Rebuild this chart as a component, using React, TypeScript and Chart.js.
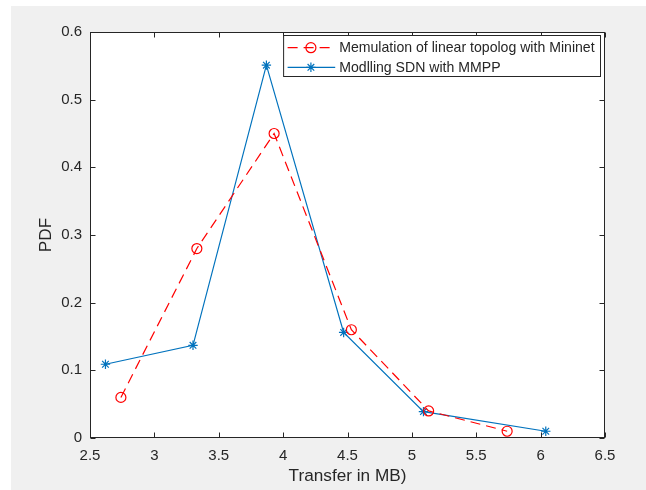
import React, { useEffect, useRef } from "react";
import { Chart, registerables } from "chart.js";

Chart.register(...registerables);

const redLabel = "Memulation of linear topolog with Mininet";
const blueLabel = "Modlling SDN with MMPP";
const xTitle = "Transfer in MB)";
const yTitle = "PDF";

const redX = [2.74, 3.33, 3.93, 4.53, 5.13, 5.74];
const redY = [0.06, 0.28, 0.45, 0.16, 0.04, 0.01];
const blueX = [2.62, 3.3, 3.87, 4.47, 5.09, 6.04];
const blueY = [0.109, 0.137, 0.551, 0.156, 0.039, 0.01];

const xMin = 2.5, xMax = 6.5, xStep = 0.5;
const yMin = 0, yMax = 0.6, yStep = 0.1;

const RED = "#FF0000";
const BLUE = "#0072BD";
const AX = "#262626";
const FONT = "'Liberation Sans', Arial, sans-serif";

const fmt = (v: number) => String(Math.round(v * 10) / 10);

function drawStar(ctx: CanvasRenderingContext2D, x: number, y: number, r: number) {
  ctx.beginPath();
  for (let k = 0; k < 4; k++) {
    const a = (k * Math.PI) / 4;
    ctx.moveTo(x - r * Math.cos(a), y - r * Math.sin(a));
    ctx.lineTo(x + r * Math.cos(a), y + r * Math.sin(a));
  }
  ctx.stroke();
}

const bgPlugin = {
  id: "bgPlugin",
  beforeDraw(chart: any) {
    const { ctx, width, height, chartArea: a } = chart;
    ctx.save();
    ctx.fillStyle = "#ffffff";
    ctx.fillRect(0, 0, width, height);
    ctx.fillStyle = "#f0f0f0";
    ctx.fillRect(11, 6, width - 11, height - 6);
    ctx.fillStyle = "#ffffff";
    ctx.fillRect(a.left, a.top, a.right - a.left, a.bottom - a.top);
    ctx.restore();
  },
};

const framePlugin = {
  id: "framePlugin",
  afterDatasetsDraw(chart: any) {
    const { ctx, chartArea: a, scales } = chart;
    const xs = scales.x, ys = scales.y;
    ctx.save();
    ctx.strokeStyle = AX;
    ctx.lineWidth = 1;
    ctx.setLineDash([]);
    const L = a.left + 0.5, R = a.right - 0.5, T = a.top + 0.5, B = a.bottom - 0.5;
    ctx.strokeRect(L, T, R - L, B - T);
    const tl = 5;
    ctx.beginPath();
    xs.ticks.forEach((t: any) => {
      const px = Math.round(xs.getPixelForValue(t.value)) + 0.5;
      ctx.moveTo(px, B); ctx.lineTo(px, B - tl);
      ctx.moveTo(px, T); ctx.lineTo(px, T + tl);
    });
    ys.ticks.forEach((t: any) => {
      const py = Math.round(ys.getPixelForValue(t.value)) + 0.5;
      ctx.moveTo(L, py); ctx.lineTo(L + tl, py);
      ctx.moveTo(R, py); ctx.lineTo(R - tl, py);
    });
    ctx.stroke();

    // legend
    const ds = chart.data.datasets;
    ctx.font = `14.1px ${FONT}`;
    const tw = Math.max(...ds.map((d: any) => ctx.measureText(d.label).width));
    const boxR = a.right - 4.5;
    const boxL = boxR - (tw + 61.5);
    const boxT = a.top + 3.5;
    const boxB = a.top + 44.5;
    ctx.fillStyle = "#ffffff";
    ctx.fillRect(boxL, boxT, boxR - boxL, boxB - boxT);
    ctx.strokeStyle = AX;
    ctx.strokeRect(boxL, boxT, boxR - boxL, boxB - boxT);
    const rows = [a.top + 15.7, a.top + 35.3];
    ds.forEach((d: any, i: number) => {
      const cy = rows[i];
      const x0 = boxL + 4, x1 = boxL + 51.6, mx = boxL + 27.3;
      ctx.strokeStyle = d.borderColor;
      ctx.lineWidth = d.borderWidth;
      ctx.setLineDash(d.borderDash || []);
      ctx.beginPath();
      ctx.moveTo(x0, cy); ctx.lineTo(x1, cy);
      ctx.stroke();
      ctx.setLineDash([]);
      if (d.pointStyle === "circle") {
        ctx.beginPath();
        ctx.arc(mx, cy, d.pointRadius, 0, Math.PI * 2);
        ctx.stroke();
      } else {
        drawStar(ctx, mx, cy, d.pointRadius);
      }
      ctx.fillStyle = AX;
      ctx.textBaseline = "middle";
      ctx.textAlign = "left";
      ctx.fillText(d.label, boxL + 55.6, cy + 0.5);
    });
    ctx.restore();
  },
};

export default function App() {
  const ref = useRef<HTMLCanvasElement | null>(null);
  useEffect(() => {
    if (!ref.current) return;
    const chart = new Chart(ref.current, {
      type: "line",
      data: {
        datasets: [
          {
            label: redLabel,
            data: redX.map((x, i) => ({ x, y: redY[i] })),
            borderColor: RED,
            borderWidth: 1.2,
            borderDash: [10, 6],
            pointStyle: "circle",
            pointRadius: 5,
            pointBorderWidth: 1.2,
            pointBorderColor: RED,
            pointBackgroundColor: "rgba(0,0,0,0)",
            tension: 0,
          },
          {
            label: blueLabel,
            data: blueX.map((x, i) => ({ x, y: blueY[i] })),
            borderColor: BLUE,
            borderWidth: 1.2,
            pointStyle: "star",
            pointRadius: 4.7,
            pointBorderWidth: 1.2,
            pointBorderColor: BLUE,
            pointBackgroundColor: BLUE,
            tension: 0,
          },
        ],
      },
      options: {
        animation: false,
        responsive: false,
        devicePixelRatio: 1,
        layout: { padding: { left: 0, top: 32, right: 41, bottom: 0 } },
        plugins: { legend: { display: false }, tooltip: { enabled: false } },
        scales: {
          x: {
            type: "linear",
            min: xMin,
            max: xMax,
            grid: { display: false, drawTicks: false },
            border: { display: false },
            ticks: {
              stepSize: xStep,
              padding: 9,
              color: AX,
              maxRotation: 0,
              font: { family: FONT, size: 15 },
              callback: (v: any) => fmt(Number(v)),
            },
            title: {
              display: true,
              text: xTitle,
              color: AX,
              font: { family: FONT, size: 17.2 },
              padding: { top: 0, bottom: 3 },
            },
            afterFit: (s: any) => { s.height = 52; },
          },
          y: {
            type: "linear",
            min: yMin,
            max: yMax,
            grid: { display: false, drawTicks: false },
            border: { display: false },
            ticks: {
              stepSize: yStep,
              padding: 8,
              color: AX,
              font: { family: FONT, size: 15 },
              callback: (v: any) => fmt(Number(v)),
            },
            title: {
              display: true,
              text: yTitle,
              color: AX,
              font: { family: FONT, size: 17.2 },
              padding: { top: 36, bottom: 0 },
            },
            afterFit: (s: any) => { s.width = 90; },
          },
        },
      },
      plugins: [bgPlugin, framePlugin],
    });
    return () => chart.destroy();
  }, []);
  return (
    <div style={{ position: "fixed", left: 0, top: 0, width: 646, height: 490 }}>
      <canvas ref={ref} width={646} height={490} style={{ width: 646, height: 490, display: "block" }} />
    </div>
  );
}
